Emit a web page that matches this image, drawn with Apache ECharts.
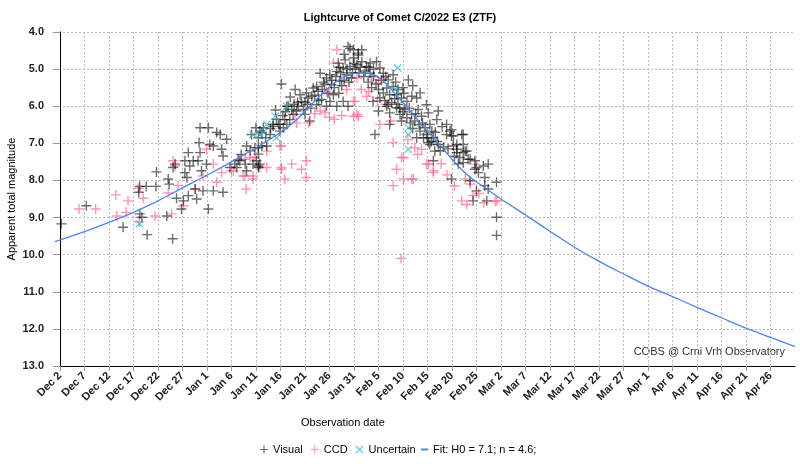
<!DOCTYPE html>
<html><head><meta charset="utf-8">
<script src="https://cdn.jsdelivr.net/npm/echarts@6/dist/echarts.min.js"></script>
<style>html,body{margin:0;padding:0;background:#fff}#c{width:800px;height:466px}</style>
</head><body><div id="c"></div>
<script>
// x values: days since Dec 2, 2022 ; y values: apparent total magnitude
const tickDays = [0,5,10,15,20,25,30,35,40,45,50,55,60,65,70,75,80,85,90,95,100,105,110,115,120,125,130,135,140,145];
const tickLabels = ['Dec 2','Dec 7','Dec 12','Dec 17','Dec 22','Dec 27','Jan 1','Jan 6','Jan 11','Jan 16','Jan 21','Jan 26','Jan 31','Feb 5','Feb 10','Feb 15','Feb 20','Feb 25','Mar 2','Mar 7','Mar 12','Mar 17','Mar 22','Mar 27','Apr 1','Apr 6','Apr 11','Apr 16','Apr 21','Apr 26'];
const magTicks = [4,5,6,7,8,9,10,11,12,13];

const visualObs = [
[0.3,9.17],[5.4,8.68],[12.9,9.26],[16.1,8.32],[16.3,8.16],[17.6,8.16],[19.6,8.16],[19.7,7.77],[16.3,8.90],[16.7,8.99],[17.8,9.46],[21.8,8.96],[23.0,9.57],[22.1,7.96],[22.3,8.10],[23.1,7.65],[23.5,7.56],[23.8,8.48],[24.8,8.77],[25.2,8.55],[25.5,7.47],[25.5,7.79],[25.9,7.92],[26.2,7.25],[26.5,7.61],[26.2,8.41],[27.2,7.47],[27.6,8.23],[28.2,7.47],[28.6,7.25],[27.9,8.50],[28.9,7.74],[29.2,8.28],[29.9,7.56],[30.3,8.77],[30.3,6.58],[28.4,6.98],[28.6,6.58],[30.6,7.03],[31.3,7.07],[32.0,6.71],[32.7,6.76],[33.0,7.16],[33.3,7.34],[34.0,6.89],[33.3,8.32],[31.3,8.28],[35.7,7.56],[36.7,7.47],[38.1,7.07],[39.1,6.76],[40.0,6.58],[40.5,7.12],[40.8,6.67],[41.5,6.58],[42.2,7.07],[40.8,7.56],[40.5,7.65],[43.5,6.49],[44.9,6.49],[45.9,6.36],[46.3,6.00],
[45.2,5.40],[48.0,5.55],[49.0,5.69],[49.3,5.87],[50.3,5.64],[50.7,5.78],[51.4,5.73],[51.7,5.51],[52.4,5.47],[52.7,5.60],[53.1,5.11],[54.4,5.24],[55.1,5.15],[55.4,5.42],[56.5,5.06],[56.8,4.84],[57.1,5.33],[57.8,4.97],[58.2,4.75],[58.5,5.15],[58.8,4.39],[59.9,4.48],[60.6,4.88],[60.9,4.62],[59.2,4.93],[59.5,5.24],[46.6,6.00],[47.3,6.09],[47.6,6.22],[48.3,6.13],[48.6,6.00],[49.7,6.09],[50.0,6.22],[51.0,6.40],[46.9,6.36],[46.3,6.49],[44.6,6.49],[43.5,6.54],[45.6,6.58],[44.9,6.67],[42.9,6.76],[41.2,6.71],[40.5,6.85],[41.2,7.07],[40.5,7.29],[39.8,7.12],[39.4,7.56],[40.1,7.47],[40.5,7.61],[37.8,7.56],[38.1,7.74],[36.1,7.65],[34.7,7.65],[54.4,6.00],[55.1,5.87],[56.5,6.00],[58.8,6.00],[57.8,5.87],[55.8,5.69],[52.4,5.96],[53.4,5.82],
[59.2,4.44],[59.9,4.70],[60.9,4.57],[61.6,4.48],[61.6,4.80],[62.6,4.93],[63.3,4.84],[64.6,4.80],[65.3,4.97],[63.3,5.11],[66.0,5.11],[67.0,5.29],[68.0,5.15],[68.0,5.47],[69.0,5.55],[71.1,5.29],[66.7,5.51],[66.0,5.64],[67.3,5.69],[68.7,5.69],[69.7,5.78],[70.8,5.87],[71.8,5.73],[72.8,5.78],[73.5,5.64],[63.9,5.87],[65.3,5.78],[65.0,6.13],[66.7,6.00],[67.3,6.18],[68.7,6.04],[69.4,6.22],[70.4,6.09],[70.8,6.31],[71.8,6.22],[72.4,6.40],[73.1,6.09],[74.8,5.96],[73.8,6.27],[75.2,6.18],[77.2,6.13],[76.9,6.36],[75.5,6.49],[74.5,6.58],[73.5,6.67],[72.8,6.85],[74.8,6.76],[75.9,6.67],[76.2,6.85],[75.2,6.98],[77.2,7.03],[76.5,7.21],[79.6,6.67],[79.9,6.80],[82.3,6.76],[81.0,7.03],[80.3,7.07],[82.7,7.21],[81.0,7.25],[83.7,7.43],[84.7,7.47],[85.0,7.65],[82.3,7.52],[64.3,6.76],[67.3,6.49],[69.7,6.40],
[78.9,6.49],[79.9,6.63],[78.9,6.76],[80.3,6.80],[82.0,6.76],[82.3,7.03],[81.0,7.16],[82.3,7.25],[83.0,7.21],[81.6,7.38],[83.3,7.43],[84.7,7.70],[85.4,7.79],[86.4,7.61],[87.4,7.56],[86.7,7.92],[83.7,8.01],[85.0,8.28],[86.7,8.14],[87.4,8.23],[89.1,8.05],[87.1,8.55],[84.3,8.55],[89.1,8.99],[89.1,9.48],[79.9,7.96],[76.2,7.47],[75.5,7.03],
[50.5,5.95],[51.2,6.05],[52.0,5.70],[52.8,5.85],[53.5,5.55],[54.0,5.40],[54.7,5.65],[53.8,5.35],[55.5,5.30],[56.0,5.50],[56.3,5.20],[57.3,5.10],[57.5,5.45],[58.0,5.30],[58.6,5.00],[59.0,5.35],[59.7,5.10],[60.3,5.00],[60.0,4.85],[61.0,5.10],[61.3,4.95],[62.0,5.20],[62.3,5.05],[62.9,5.35],[63.6,5.50],[64.0,5.20],[64.5,5.40],[65.0,5.55],[65.6,5.30],[66.3,5.85],[67.0,5.95],[67.7,5.90],[68.3,5.80],[69.0,5.95],[69.3,6.05],[70.0,6.15],[70.2,5.65],[71.3,6.05],[71.5,6.45],[72.0,6.60],[72.6,6.20],[73.3,6.50],[74.0,6.45],[74.2,6.85],[75.0,6.85],[75.8,6.95],[76.6,6.70],[77.0,6.95],[77.6,7.20],[78.3,7.10],[78.0,6.55],[79.2,7.15],[80.5,7.35],[81.3,7.55],[48.5,5.90],[47.0,5.75],[46.0,6.15],[45.5,6.25],[44.2,6.35],[43.0,6.60],[42.0,6.85],[38.8,7.20],[37.0,7.30],[36.4,7.45],[44.0,6.10],[47.8,5.95],[50.0,5.90],[56.9,5.65],[58.0,4.60],[57.0,4.95],[63.0,4.95],[64.0,5.00],[66.5,5.20],[68.5,5.35],[72.0,5.45],[70.0,5.50]
];

const ccdObs = [
[3.9,8.77],[7.3,8.77],[11.4,8.39],[11.6,8.96],[13.5,8.86],[13.9,8.55],[16.0,8.21],[16.2,9.12],[17.0,8.48],[19.4,8.96],[22.1,8.34],[22.8,8.90],[23.1,7.47],[23.5,7.61],[24.1,8.14],[25.2,8.68],[27.6,8.23],[29.2,7.88],[29.9,7.16],[31.3,7.56],[32.0,8.05],[33.0,7.79],[35.0,7.74],[37.4,7.88],[38.0,8.23],[39.4,7.88],[39.8,7.38],[40.8,7.65],[42.2,7.65],[45.2,7.65],[45.9,7.96],[44.9,7.07],
[56.5,4.48],[55.8,4.84],[54.4,5.60],[54.1,6.18],[60.2,5.87],[60.6,6.22],[48.3,6.45],[50.7,6.45],[48.0,6.22],[45.2,7.07],[42.2,7.21],[38.8,7.38],[37.8,7.43],[35.4,7.74],[37.8,7.88],[39.4,7.96],[45.2,7.70],[47.3,7.56],[49.3,7.70],[50.3,7.47],[50.3,7.92],[53.1,6.13],
[59.9,5.87],[60.9,6.27],[59.9,6.27],[65.3,6.49],[68.0,6.98],[70.1,7.38],[68.7,7.70],[71.8,7.96],[73.8,7.16],[75.2,7.56],[76.2,7.79],[84.7,7.56],[72.4,7.12],[62.6,5.73],[60.6,5.24],[63.6,5.29],[65.0,5.37],[66.0,5.24],
[82.0,8.55],[84.3,8.41],[83.7,8.10],[89.1,8.55],[76.2,7.74],[74.8,7.56],[82.7,7.96],[68.0,8.14],[70.1,7.96],[72.1,7.96],[69.7,7.38],[88.8,8.56],[69.6,10.10],
[55.0,6.30],[56.0,6.35],[57.5,6.25],[52.0,6.20],[58.5,5.55],[61.5,5.55],[63.0,5.60],[64.8,5.85],[66.5,5.95],[67.5,6.40],[71.0,6.90],[73.0,7.30],[77.8,7.55],[79.0,7.85],[80.5,8.15],[83.0,8.65],[85.5,8.35],[86.5,8.60]
];

const uncertainObs = [
[16.2,9.17],[39.4,6.76],[40.8,6.76],[42.2,6.49],[43.9,6.27],[44.2,6.85],[41.5,6.71],[46.3,6.00],[68.9,4.97],[68.4,5.55],[71.1,6.58],[71.1,6.76],[71.1,7.16]
];

const fitCurve = [
[-1,9.65],[5,9.38],[10,9.13],[15,8.86],[20,8.55],[25,8.20],[30,7.86],[35,7.50],[40,7.12],[45,6.71],[48,6.40],[51,6.00],[54,5.60],[57,5.28],[60,5.12],[62,5.10],[64,5.15],[66,5.33],[68,5.60],[70,5.90],[72,6.21],[74,6.53],[76,6.81],[78,7.12],[80,7.43],[82,7.71],[84,7.94],[86,8.13],[90,8.50],[95,8.93],[100,9.37],[105,9.80],[110,10.18],[115,10.52],[120,10.85],[125,11.13],[130,11.42],[135,11.70],[140,11.98],[145,12.23],[150,12.48]
];

const FONT = '"Liberation Sans", Arial, sans-serif';
const PLUS = 'path://M4.3,0h1.4v4.3h4.3v1.4h-4.3v4.3h-1.4v-4.3h-4.3v-1.4h4.3z';
const CROSS = 'path://M0,1L1,0L5,4L9,0L10,1L6,5L10,9L9,10L5,6L1,10L0,9L4,5Z';
const FIT_COLOR = '#4a86f0';
const FIT_NAME = 'Fit: H0 = 7.1; n = 4.6;';

const chart = echarts.init(document.getElementById('c'), null, {renderer:'canvas'});
chart.setOption({
  animation: false,
  backgroundColor: '#fff',
  textStyle: {fontFamily: FONT},
  title: {text: 'Lightcurve of Comet C/2022 E3 (ZTF)', left: 'center', top: 7,
    textStyle: {fontSize: 11, fontWeight: 'bold', color: '#000', fontFamily: FONT}},
  grid: {left: 55, right: 5, top: 32, bottom: 100, containLabel: false, outerBoundsMode: 'none'},
  xAxis: {
    type: 'value', min: -1, max: 150,
    axisLine: {onZero: false, lineStyle: {color: '#000', width: 1}},
    axisTick: {show: true, customValues: tickDays, length: 5, lineStyle: {color: '#999'}},
    axisLabel: {customValues: tickDays, rotate: 45, margin: 8, fontSize: 11, fontWeight: 'bold', color: '#222', fontFamily: FONT,
      formatter: v => { const i = tickDays.indexOf(Math.round(v)); return i >= 0 ? tickLabels[i] : ''; }},
    splitLine: {show: true, lineStyle: {color: '#bbb', type: [2,2], width: 1}}
  },
  yAxis: {
    type: 'value', inverse: true, min: 4, max: 13, interval: 1,
    name: 'Apparent total magnitude', nameLocation: 'middle', nameGap: 38, nameMoveOverlap: false,
    nameTextStyle: {fontSize: 11, color: '#000', fontFamily: FONT},
    axisLine: {show: true, lineStyle: {color: '#000', width: 1}},
    axisTick: {show: true, length: 7, lineStyle: {color: '#999'}},
    axisLabel: {margin: 11, fontSize: 11, fontWeight: 'bold', color: '#222', fontFamily: FONT,
      formatter: v => magTicks.includes(v) ? v.toFixed(1) : ''},
    splitLine: {show: true, lineStyle: {color: '#bbb', type: [2,2], width: 1}}
  },
  legend: [
    {
      top: 439, left: 255, itemWidth: 8, itemHeight: 8, itemGap: 8,
      textStyle: {fontSize: 11, color: '#000', fontFamily: FONT},
      data: [
        {name: 'Visual', icon: PLUS},
        {name: 'CCD', icon: PLUS},
        {name: 'Uncertain', icon: CROSS}
      ]
    },
    {
      top: 439, left: 416, itemWidth: 7, itemHeight: 2,
      textStyle: {fontSize: 11, color: '#000', fontFamily: FONT},
      itemStyle: {color: FIT_COLOR, borderWidth: 0},
      data: [{name: FIT_NAME, icon: 'rect', itemStyle: {color: FIT_COLOR, borderWidth: 0}}]
    }
  ],
  graphic: [
    {type: 'text', left: 301, top: 417, style: {text: 'Observation date', font: '11px ' + FONT, fill: '#000'}},
    {type: 'text', right: 15, top: 346, style: {text: 'COBS @ Crni Vrh Observatory', font: '11px ' + FONT, fill: '#333'}}
  ],
  series: [
    {name: 'Visual', type: 'scatter', data: visualObs, symbol: PLUS, symbolSize: 10,
      itemStyle: {color: 'rgba(0,0,0,0.72)'}, z: 3},
    {name: 'CCD', type: 'scatter', data: ccdObs, symbol: PLUS, symbolSize: 10,
      itemStyle: {color: 'rgba(255,90,130,0.8)'}, z: 2},
    {name: 'Uncertain', type: 'scatter', data: uncertainObs, symbol: CROSS, symbolSize: 8,
      itemStyle: {color: '#2ab5c8'}, z: 4},
    {name: FIT_NAME, type: 'line', color: FIT_COLOR, data: fitCurve, smooth: 0.3, symbol: 'none',
      lineStyle: {color: FIT_COLOR, width: 1.3}, itemStyle: {color: FIT_COLOR}, z: 5}
  ]
});
</script></body></html>
